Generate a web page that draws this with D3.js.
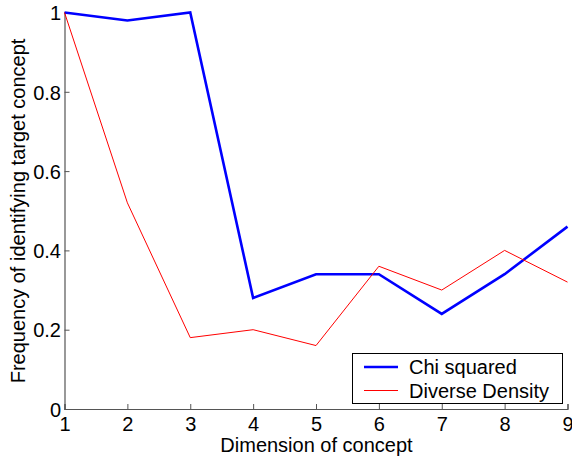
<!DOCTYPE html>
<html><head><meta charset="utf-8">
<script src="https://cdn.jsdelivr.net/npm/d3@7"></script>
<style>body{margin:0;background:#fff}svg{display:block}text{font-family:"Liberation Sans",Arial,Helvetica,sans-serif;fill:#000}</style>
</head><body>
<svg id="c" width="572" height="457"></svg>
<script>
const dims = [1,2,3,4,5,6,7,8,9];
const chiSquared = [1.00,0.98,1.00,0.28,0.34,0.34,0.24,0.34,0.46];
const diverseDensity = [1.00,0.52,0.18,0.20,0.16,0.36,0.30,0.40,0.32];
const xTicks = [1,2,3,4,5,6,7,8,9];
const yTicks = [0,0.2,0.4,0.6,0.8,1];
const yTickLabels = ["0","0.2","0.4","0.6","0.8","1"];
const seriesNames = ["Chi squared","Diverse Density"];

const svg = d3.select("#c");
const x = d3.scaleLinear().domain([1,9]).range([64.5,567.5]);
const y = d3.scaleLinear().domain([0,1]).range([409,12.5]);
const fs = 20;

const xAxis = svg.append("g").attr("transform","translate(0,409)")
  .call(d3.axisBottom(x).tickValues(xTicks).tickSize(-5).tickPadding(8).tickFormat(d3.format("d")));
const yAxis = svg.append("g").attr("transform","translate(64.5,0)")
  .call(d3.axisLeft(y).tickValues(yTicks).tickSize(-5).tickPadding(3.5).tickFormat((d,i)=>yTickLabels[i]));
[xAxis,yAxis].forEach(a=>{
  a.select(".domain").attr("stroke","#555").attr("stroke-width",1.2);
  a.selectAll(".tick line").attr("stroke","#555");
  a.selectAll(".tick text").style("font-size",fs+"px").style("font-family","Liberation Sans, Arial, sans-serif").attr("fill","#000");
});
yAxis.selectAll(".tick text").attr("dy","0.36em");

const line = d3.line().x((d,i)=>x(dims[i])).y(d=>y(d));
svg.append("path").datum(chiSquared).attr("d",line).attr("fill","none").attr("stroke","#0000ff").attr("stroke-width",2.6).attr("stroke-linejoin","miter");
svg.append("path").datum(diverseDensity).attr("d",line).attr("fill","none").attr("stroke","#ff0000").attr("stroke-width",1);

svg.append("text").attr("x",316.5).attr("y",452).attr("text-anchor","middle").style("font-size",fs+"px").text("Dimension of concept");
svg.append("text").attr("transform","translate(25,211) rotate(-90)").attr("text-anchor","middle").style("font-size",fs+"px").text("Frequency of identifying target concept");

const lg = svg.append("g");
lg.append("rect").attr("x",352.5).attr("y",353.5).attr("width",210).attr("height",50).attr("fill","#fff").attr("stroke","#000").attr("stroke-width",1);
const colors = ["#0000ff","#ff0000"], widths=[2.6,1];
seriesNames.forEach((n,i)=>{
  const yy = 367 + i*23.5;
  lg.append("line").attr("x1",364).attr("x2",398).attr("y1",yy).attr("y2",yy).attr("stroke",colors[i]).attr("stroke-width",widths[i]);
  lg.append("text").attr("x",409).attr("y",yy).attr("dy","0.36em").style("font-size",fs+"px").text(n);
});
</script>
</body></html>
